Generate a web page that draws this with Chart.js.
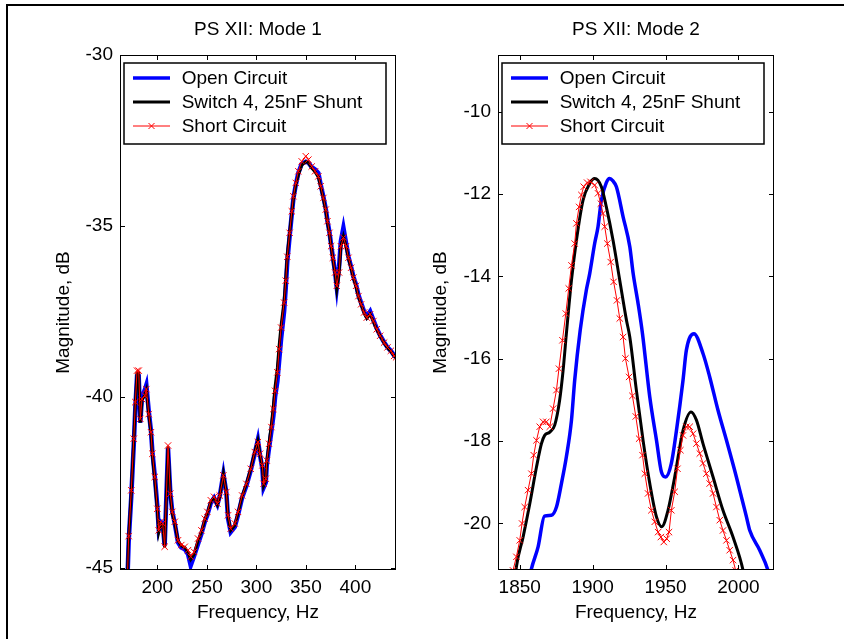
<!DOCTYPE html>
<html>
<head>
<meta charset="utf-8">
<title>PS XII</title>
<script src="https://cdn.jsdelivr.net/npm/chart.js@4.4.1/dist/chart.umd.min.js"></script>
<style>
    html, body { margin: 0; padding: 0; background: #fff; overflow: hidden; }
    body { width: 844px; height: 639px; position: relative; }
    .linea { position: absolute; background: #000; }
    #lineaSup { left: 6px; top: 4px; width: 838px; height: 2px; }
    #lineaIzq { left: 6px; top: 4px; width: 2px; height: 635px; }
    canvas { position: absolute; top: 0; }
    #modo1 { left: 0; }
    #modo2 { left: 420px; }
</style>
</head>
<body>
<div class="linea" id="lineaSup"></div>
<div class="linea" id="lineaIzq"></div>
<canvas id="modo1" width="420" height="639"></canvas>
<canvas id="modo2" width="400" height="639"></canvas>
<script>
// Datos
const etiquetas = ['Open Circuit', 'Switch 4, 25nF Shunt', 'Short Circuit'];

// Modo 1 (misma frecuencia para las tres curvas)
const frecuenciasM1 = [
    169.5, 171.1, 173.7, 176.2, 177.8, 179.5, 181.2, 182.8, 184.5, 187.3,
    188.9, 191.3, 193.6, 195.0, 197.4, 200.0, 201.4, 203.4, 205.4, 207.4,
    210.8, 213.1, 215.1, 217.6, 220.9, 224.2, 227.7, 231.0, 233.7, 237.1,
    241.1, 244.5, 247.9, 250.5, 254.0, 257.3, 260.6, 263.0, 266.7, 269.7,
    271.4, 274.1, 278.2, 281.5, 285.6, 289.9, 294.3, 298.4, 301.5, 303.7,
    306.1, 307.3, 309.5, 310.5, 312.8, 315.2, 317.2, 318.9, 321.2, 323.0,
    325.0, 328.0, 329.7, 331.2, 333.6, 335.8, 337.4, 339.8, 342.4, 345.8,
    349.9, 352.5, 355.9, 359.3, 362.6, 365.0, 367.7, 370.1, 371.8, 373.8,
    375.5, 377.2, 379.5, 381.2, 383.5, 385.3, 387.9, 390.6, 393.0, 395.7,
    398.0, 400.7, 403.1, 405.8, 408.8, 411.5, 414.9, 418.2, 421.6, 425.0,
    429.0, 432.4, 435.8, 439.1, 441.1
];
const abiertoM1 = [
    -45.6, -44.2, -42.9, -41.4, -40.3, -39.4, -39.4, -40.75, -40.0, -39.8,
    -39.65, -40.4, -41.0, -41.6, -42.3, -43.2, -43.85, -43.65, -43.7, -44.35,
    -41.5, -42.8, -43.35, -43.7, -44.25, -44.4, -44.45, -44.6, -44.93, -44.65,
    -44.3, -44.0, -43.65, -43.45, -43.1, -42.95, -43.15, -42.9, -42.25, -42.8,
    -43.55, -43.95, -43.8, -43.45, -42.95, -42.6, -42.15, -41.65, -41.25, -41.7,
    -42.1, -42.65, -42.5, -42.0, -41.5, -41.0, -40.55, -40.0, -39.55, -38.95,
    -38.3, -37.5, -36.8, -36.05, -35.3, -34.65, -34.2, -33.8, -33.45, -33.18,
    -33.12, -33.15, -33.28, -33.35, -33.45, -33.8, -34.15, -34.5, -34.85, -35.18,
    -35.55, -35.9, -36.35, -36.8, -36.2, -35.45, -35.05, -35.5, -35.9, -36.2,
    -36.48, -36.72, -37.02, -37.25, -37.5, -37.65, -37.5, -37.75, -38.0, -38.2,
    -38.4, -38.55, -38.65, -38.78, -38.85
];
const switchM1 = [
    -45.5, -44.1, -42.8, -41.3, -40.2, -39.3, -39.3, -40.75, -40.1, -39.95,
    -39.8, -40.5, -41.05, -41.7, -42.4, -43.3, -43.95, -43.7, -43.75, -44.4,
    -41.45, -42.85, -43.4, -43.7, -44.2, -44.35, -44.4, -44.55, -44.75, -44.6,
    -44.2, -43.95, -43.6, -43.4, -43.05, -42.95, -43.15, -42.9, -42.25, -42.8,
    -43.5, -43.9, -43.75, -43.4, -42.9, -42.55, -42.1, -41.6, -41.28, -41.7,
    -42.05, -42.6, -42.45, -41.9, -41.35, -40.8, -40.25, -39.7, -39.15, -38.5,
    -37.9, -37.2, -36.55, -35.85, -35.2, -34.6, -34.2, -33.8, -33.5, -33.22,
    -33.12, -33.15, -33.3, -33.42, -33.57, -33.86, -34.2, -34.55, -34.9, -35.22,
    -35.6, -35.95, -36.4, -36.85, -36.4, -35.6, -35.3, -35.6, -35.95, -36.25,
    -36.52, -36.78, -37.07, -37.3, -37.55, -37.7, -37.58, -37.8, -38.03, -38.22,
    -38.42, -38.56, -38.67, -38.8, -38.85
];
const cortoM1 = [
    -45.5, -44.07, -42.73, -41.22, -40.15, -39.23, -39.23, -40.64, -40.06, -39.96,
    -39.77, -40.5, -41.03, -41.66, -42.34, -43.27, -43.9, -43.65, -43.7, -44.38,
    -41.42, -42.83, -43.36, -43.65, -44.19, -44.33, -44.38, -44.48, -44.67, -44.53,
    -44.14, -43.9, -43.56, -43.36, -43.02, -42.92, -43.12, -42.88, -42.29, -42.78,
    -43.46, -43.85, -43.7, -43.36, -42.88, -42.54, -42.1, -41.61, -41.32, -41.66,
    -42.0, -42.54, -42.39, -41.86, -41.37, -40.88, -40.35, -39.82, -39.28, -38.6,
    -37.97, -37.24, -36.6, -35.9, -35.2, -34.57, -34.13, -33.74, -33.4, -33.11,
    -32.96, -33.06, -33.26, -33.4, -33.55, -33.84, -34.18, -34.52, -34.86, -35.2,
    -35.59, -35.93, -36.36, -36.75, -36.36, -35.59, -35.34, -35.59, -35.93, -36.22,
    -36.51, -36.75, -37.05, -37.29, -37.53, -37.68, -37.58, -37.78, -38.02, -38.21,
    -38.41, -38.55, -38.65, -38.8, -38.84
];

// Modo 2 (cada curva con sus frecuencias)
const frecAbiertoM2 = [
    1856.0, 1857.5, 1862.6, 1867.0, 1871.7, 1875.2, 1878.6, 1882.0, 1885.5, 1887.7,
    1891.5, 1895.7, 1898.0, 1901.4, 1903.7, 1906.0, 1909.4, 1911.7, 1913.9, 1916.3,
    1920.9, 1925.5, 1927.8, 1931.2, 1934.2, 1939.2, 1943.8, 1947.2, 1950.1, 1954.0,
    1957.5, 1962.0, 1964.3, 1969.5, 1975.7, 1980.3, 1986.0, 1991.8, 1998.6, 2005.5,
    2007.8, 2014.6, 2020.3, 2022.0
];
const abiertoM2 = [
    -21.5, -21.18, -20.57, -19.82, -19.80, -19.6, -19.03, -18.38, -17.49, -16.52,
    -15.3, -14.33, -13.93, -13.2, -12.79, -12.15, -11.72, -11.62, -11.68, -11.82,
    -12.55, -13.28, -13.93, -14.66, -15.39, -16.93, -17.98, -18.75, -18.87, -18.54,
    -17.74, -16.52, -15.79, -15.39, -15.87, -16.44, -17.25, -17.98, -18.87, -19.84,
    -20.17, -20.65, -21.14, -21.4
];
const frecSwitchM2 = [
    1846.5, 1847.7, 1852.3, 1856.9, 1861.5, 1864.9, 1867.1, 1870.6, 1874.0, 1877.4,
    1879.7, 1882.0, 1885.5, 1888.9, 1893.4, 1898.0, 1901.4, 1906.0, 1909.4, 1914.0,
    1918.6, 1923.2, 1925.5, 1930.0, 1934.6, 1939.2, 1943.8, 1947.4, 1951.7, 1956.3,
    1962.0, 1967.5, 1971.2, 1975.7, 1982.6, 1989.4, 1996.3, 2003.2, 2005.0
];
const switchM2 = [
    -21.5, -21.06, -20.33, -19.52, -18.63, -18.06, -17.86, -17.78, -17.61, -17.0,
    -16.3, -15.39, -14.09, -13.12, -12.15, -11.74, -11.62, -11.82, -12.31, -13.12,
    -14.09, -15.06, -15.47, -16.76, -17.98, -19.03, -19.84, -20.08, -19.68, -18.87,
    -17.74, -17.29, -17.49, -18.06, -18.87, -19.68, -20.33, -21.14, -21.5
];
const frecCortoM2 = [
    1843.5, 1845.4, 1847.7, 1850.0, 1851.6, 1853.4, 1855.7, 1858.0, 1859.6, 1861.5,
    1863.7, 1866.0, 1868.3, 1870.6, 1872.9, 1875.2, 1876.9, 1879.3, 1881.6, 1883.6,
    1885.5, 1887.7, 1888.9, 1890.7, 1892.3, 1893.9, 1896.2, 1898.5, 1901.4, 1903.7,
    1905.6, 1907.1, 1908.3, 1910.1, 1912.4, 1914.4, 1916.7, 1918.6, 1920.9, 1922.5,
    1925.0, 1927.3, 1929.6, 1931.9, 1934.2, 1935.8, 1938.0, 1940.3, 1942.6, 1944.9,
    1946.8, 1948.8, 1950.8, 1952.4, 1954.0, 1956.3, 1958.2, 1960.2, 1962.0, 1964.3,
    1966.6, 1968.9, 1971.2, 1973.5, 1975.7, 1978.0, 1980.3, 1982.6, 1984.9, 1987.2,
    1989.4, 1991.8, 1994.0, 1996.3, 1998.1, 2000.0
];
const cortoM2 = [
    -21.6, -21.14, -20.81, -20.41, -20.0, -19.6, -19.19, -18.79, -18.34, -17.98,
    -17.65, -17.53, -17.53, -17.65, -17.21, -16.76, -16.24, -15.55, -14.9, -14.29,
    -13.73, -13.2, -12.71, -12.31, -12.02, -11.82, -11.72, -11.7, -11.78, -11.98,
    -12.23, -12.47, -12.79, -13.2, -13.65, -14.13, -14.58, -15.02, -15.47, -15.99,
    -16.44, -16.9, -17.4, -17.94, -18.34, -18.79, -19.27, -19.68, -19.96, -20.21,
    -20.33, -20.45, -20.37, -20.21, -19.68, -19.23, -18.67, -18.22, -17.86, -17.65,
    -17.65, -17.82, -18.06, -18.3, -18.54, -18.79, -19.03, -19.27, -19.6, -19.92,
    -20.17, -20.41, -20.65, -20.89, -21.14, -21.4
];

// Ticks de los ejes
const ticksXM1 = [200, 250, 300, 350, 400];
const ticksYM1 = [-30, -35, -40, -45];
const ticksXM2 = [1850, 1900, 1950, 2000];
const ticksYM2 = [-10, -12, -14, -16, -18, -20];

const fuente = 'Arial, "Liberation Sans", Helvetica, sans-serif';

// Caja del eje, ticks hacia adentro y leyenda (estilo MATLAB)
const marcoEjes = {
    id: 'marcoEjes',
    afterDatasetsDraw(chart) {
        const { ctx, chartArea: a, scales: { x, y } } = chart;
        const L = 5;
        ctx.save();
        ctx.strokeStyle = '#000';
        ctx.lineWidth = 1;
        ctx.strokeRect(a.left + 0.5, a.top + 0.5, a.right - a.left - 1, a.bottom - a.top - 1);
        ctx.beginPath();
        x.ticks.forEach(t => {
            const px = Math.round(x.getPixelForValue(t.value)) + 0.5;
            ctx.moveTo(px, a.bottom); ctx.lineTo(px, a.bottom - L);
            ctx.moveTo(px, a.top); ctx.lineTo(px, a.top + L);
        });
        y.ticks.forEach(t => {
            const py = Math.round(y.getPixelForValue(t.value)) + 0.5;
            ctx.moveTo(a.left, py); ctx.lineTo(a.left + L, py);
            ctx.moveTo(a.right, py); ctx.lineTo(a.right - L, py);
        });
        ctx.stroke();

        // Leyenda
        const bx = a.left + 4, by = a.top + 8, bw = 262, bh = 81;
        ctx.fillStyle = '#fff';
        ctx.fillRect(bx, by, bw, bh);
        ctx.lineWidth = 1.5;
        ctx.strokeRect(bx, by, bw, bh);
        ctx.font = '19px ' + fuente;
        ctx.textBaseline = 'middle';
        ctx.textAlign = 'left';
        chart.data.datasets.forEach((ds, i) => {
            const yy = by + 15 + i * 24;
            ctx.strokeStyle = ds.borderColor;
            ctx.lineWidth = Math.min(ds.borderWidth, 3.5);
            ctx.beginPath();
            ctx.moveTo(bx + 9, yy); ctx.lineTo(bx + 46, yy);
            ctx.stroke();
            if (ds.pointRadius > 0) {
                const cx = bx + 27.5, r = 3;
                ctx.lineWidth = 1;
                ctx.beginPath();
                ctx.moveTo(cx - r, yy - r); ctx.lineTo(cx + r, yy + r);
                ctx.moveTo(cx - r, yy + r); ctx.lineTo(cx + r, yy - r);
                ctx.stroke();
            }
            ctx.fillStyle = '#000';
            ctx.fillText(ds.label, bx + 57.7, yy + 1);
        });
        ctx.restore();
    }
};

function serie(etiqueta, xs, ys, color, ancho, marcas, suave, orden) {
    return {
        label: etiqueta,
        data: xs.map((f, i) => ({ x: f, y: ys[i] })),
        borderColor: color,
        backgroundColor: color,
        borderWidth: ancho,
        pointRadius: marcas ? 4.5 : 0,
        pointStyle: 'crossRot',
        pointBorderWidth: 1,
        pointBorderColor: color,
        tension: 0,
        cubicInterpolationMode: suave ? 'monotone' : 'default',
        fill: false,
        clip: 0,
        order: orden
    };
}

function crearGrafico(id, titulo, series, eje) {
    new Chart(document.getElementById(id), {
        type: 'line',
        data: { datasets: series },
        options: {
            responsive: false,
            animation: false,
            devicePixelRatio: 1,
            layout: { padding: { left: 0, right: eje.derecha, top: 0, bottom: 0 } },
            plugins: {
                legend: { display: false },
                tooltip: { enabled: false },
                title: {
                    display: true, text: titulo, color: '#000', fullSize: false,
                    font: { family: fuente, size: 19, weight: 'normal' },
                    padding: { top: 18.6, bottom: 13.6 }
                }
            },
            scales: {
                x: {
                    type: 'linear', min: eje.xMin, max: eje.xMax,
                    afterBuildTicks: s => { s.ticks = eje.ticksX.map(v => ({ value: v })); },
                    afterFit: s => { s.height = 69; },
                    grid: { display: false, drawTicks: false },
                    border: { display: false },
                    ticks: { color: '#000', padding: 6, maxRotation: 0, autoSkip: false,
                             font: { family: fuente, size: 19 }, callback: v => String(v) },
                    title: { display: true, text: 'Frequency, Hz', color: '#000',
                             font: { family: fuente, size: 19 }, padding: { top: 0, bottom: 14.6 } }
                },
                y: {
                    type: 'linear', min: eje.yMin, max: eje.yMax,
                    afterBuildTicks: s => { s.ticks = eje.ticksY.map(v => ({ value: v })); },
                    afterFit: s => { s.width = eje.anchoY; },
                    grid: { display: false, drawTicks: false },
                    border: { display: false },
                    ticks: { color: '#000', padding: 7, autoSkip: false,
                             font: { family: fuente, size: 19 }, callback: v => String(v) },
                    title: { display: true, text: 'Magnitude, dB', color: '#000',
                             font: { family: fuente, size: 19 }, padding: { top: eje.tituloY, bottom: 0 } }
                }
            }
        },
        plugins: [marcoEjes]
    });
}

// 1. Modo 1
crearGrafico('modo1', 'PS XII: Mode 1', [
    serie(etiquetas[0], frecuenciasM1, abiertoM1, '#0000ff', 4.5, false, false, 3),
    serie(etiquetas[1], frecuenciasM1, switchM1, '#000000', 3, false, false, 2),
    serie(etiquetas[2], frecuenciasM1, cortoM1, '#ff0000', 1, true, false, 1)
], { xMin: 162.3, xMax: 441, yMin: -45.06, yMax: -30, ticksX: ticksXM1, ticksY: ticksYM1,
     anchoY: 120, derecha: 24, tituloY: 52.6 });

// 2. Modo 2
crearGrafico('modo2', 'PS XII: Mode 2', [
    serie(etiquetas[0], frecAbiertoM2, abiertoM2, '#0000ff', 3.5, false, true, 3),
    serie(etiquetas[1], frecSwitchM2, switchM2, '#000000', 3, false, true, 2),
    serie(etiquetas[2], frecCortoM2, cortoM2, '#ff0000', 1, true, false, 1)
], { xMin: 1835.1, xMax: 2024.4, yMin: -21.13, yMax: -8.62, ticksX: ticksXM2, ticksY: ticksYM2,
     anchoY: 78, derecha: 46, tituloY: 9.6 });
</script>
</body>
</html>
